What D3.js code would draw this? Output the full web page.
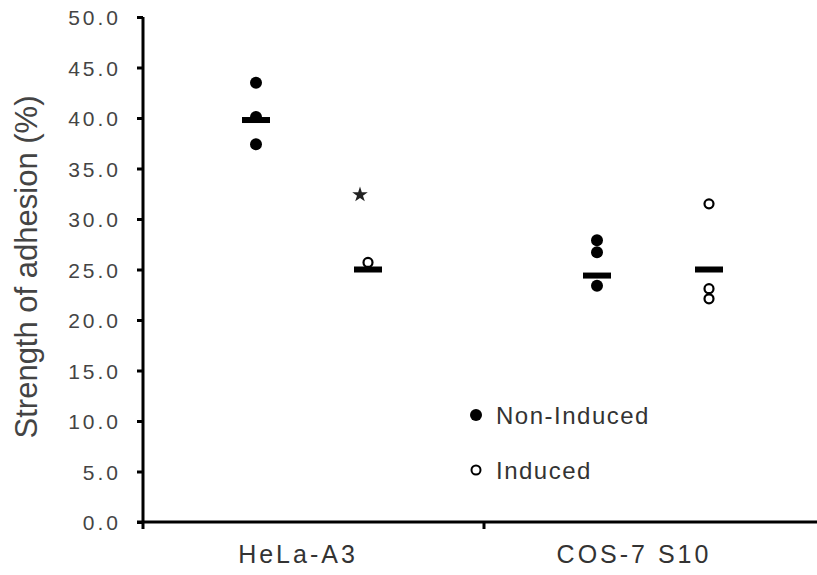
<!DOCTYPE html>
<html>
<head>
<meta charset="utf-8">
<script src="https://cdn.jsdelivr.net/npm/d3@7"></script>
<style>
body { margin: 0; background: #fff; }
</style>
</head>
<body>
<script>
// Data
var cellLines = ['HeLa-A3', 'COS-7 S10'];
var series = ['Non-induced', 'Induced'];
var legendLabels = ['Non-Induced', 'Induced'];
var nonInduced = [[43.5, 40.1, 37.4], [27.9, 26.7, 23.4]];
var induced = [[25.7], [31.5, 23.1, 22.1]];
var nonInducedMean = [39.8, 24.4];
var inducedMean = [25.0, 25.0];
var yTicks = [0, 5, 10, 15, 20, 25, 30, 35, 40, 45, 50];
var starAt = { line: 'HeLa-A3', series: 'Induced', value: 32.4 };

var w = 817;
var h = 575;
var font = 'Liberation Sans, Arial, Helvetica, sans-serif';

var svg = d3.select('body')
	.append('svg')
	.attr('width', w)
	.attr('height', h);

var x0 = d3.scaleBand()
	.domain(cellLines)
	.range([143, 825]);

var x1 = d3.scalePoint()
	.domain(series)
	.range([113, 225]);

var y = d3.scaleLinear()
	.domain([0, 50])
	.range([522, 17]);

// Y axis
var yAxis = svg.append('g')
	.attr('transform', 'translate(143,0)')
	.call(d3.axisLeft(y).tickValues(yTicks).tickSize(6).tickPadding(16)
		.tickFormat(d3.format('.1f')));
yAxis.select('.domain').attr('stroke-width', 3).attr('d', 'M0,' + y(50) + 'V' + (y(0) + 1));
yAxis.selectAll('.tick line').attr('stroke-width', 3);
yAxis.selectAll('.tick text')
	.attr('font-family', font)
	.attr('font-size', '21px')
	.attr('letter-spacing', '3px')
	.attr('dy', '0.36em')
	.attr('fill', '#444');

// X axis
svg.append('line')
	.attr('x1', 137).attr('x2', w)
	.attr('y1', y(0)).attr('y2', y(0))
	.attr('stroke', '#000').attr('stroke-width', 3);
svg.selectAll('.xtick')
	.data(cellLines)
	.enter()
	.append('line')
	.attr('class', 'xtick')
	.attr('x1', function(d){ return x0(d); })
	.attr('x2', function(d){ return x0(d); })
	.attr('y1', y(0))
	.attr('y2', y(0) + 7)
	.attr('stroke', '#000')
	.attr('stroke-width', 3);
svg.selectAll('.xlabel')
	.data(cellLines)
	.enter()
	.append('text')
	.attr('class', 'xlabel')
	.text(function(d){ return d; })
	.attr('x', function(d, i){ return x0(d) + (i === 0 ? 155 : 150); })
	.attr('y', 563)
	.attr('text-anchor', 'middle')
	.attr('font-family', font)
	.attr('font-size', '25px')
	.attr('letter-spacing', '3px')
	.attr('fill', '#333');

// Y title
svg.append('text')
	.text('Strength of adhesion (%)')
	.attr('transform', 'translate(37,267) rotate(-90)')
	.attr('text-anchor', 'middle')
	.attr('font-family', font)
	.attr('font-size', '31px')
	.attr('fill', '#444');

// Points
function pts(values, s) {
	var out = [];
	values.forEach(function(arr, i){
		arr.forEach(function(v){ out.push({ line: cellLines[i], s: s, v: v }); });
	});
	return out;
}

svg.selectAll('.dotN')
	.data(pts(nonInduced, 'Non-induced'))
	.enter()
	.append('circle')
	.attr('class', 'dotN')
	.attr('cx', function(d){ return x0(d.line) + x1(d.s); })
	.attr('cy', function(d){ return y(d.v); })
	.attr('r', 6)
	.attr('fill', '#000');

svg.selectAll('.dotI')
	.data(pts(induced, 'Induced'))
	.enter()
	.append('circle')
	.attr('class', 'dotI')
	.attr('cx', function(d){ return x0(d.line) + x1(d.s); })
	.attr('cy', function(d){ return y(d.v); })
	.attr('r', 4.5)
	.attr('fill', '#fff')
	.attr('stroke', '#000')
	.attr('stroke-width', 2.2);

// Means
var means = [];
cellLines.forEach(function(c, i){
	means.push({ line: c, s: 'Non-induced', v: nonInducedMean[i] });
	means.push({ line: c, s: 'Induced', v: inducedMean[i] });
});
svg.selectAll('.mean')
	.data(means)
	.enter()
	.append('rect')
	.attr('class', 'mean')
	.attr('x', function(d){ return x0(d.line) + x1(d.s) - 14; })
	.attr('y', function(d){ return y(d.v) - 3; })
	.attr('width', 28)
	.attr('height', 6)
	.attr('fill', '#000');

// Significance star
svg.append('path')
	.attr('d', d3.symbol(d3.symbolStar, 75))
	.attr('transform', 'translate(' + (x0(starAt.line) + x1(starAt.series) - 8) + ',' + y(starAt.value) + ')')
	.attr('fill', '#222');

// Legend
var legend = svg.selectAll('.legend')
	.data(legendLabels)
	.enter()
	.append('g')
	.attr('class', 'legend')
	.attr('transform', function(d, i){ return 'translate(476,' + (415 + i * 55) + ')'; });
legend.append('circle')
	.attr('r', function(d, i){ return i === 0 ? 6 : 4.5; })
	.attr('fill', function(d, i){ return i === 0 ? '#000' : '#fff'; })
	.attr('stroke', '#000')
	.attr('stroke-width', function(d, i){ return i === 0 ? 0 : 2; });
legend.append('text')
	.text(function(d){ return d; })
	.attr('x', 20)
	.attr('y', 9)
	.attr('font-family', font)
	.attr('font-size', '24px')
	.attr('letter-spacing', '1.5px')
	.attr('fill', '#333');
</script>
</body>
</html>
